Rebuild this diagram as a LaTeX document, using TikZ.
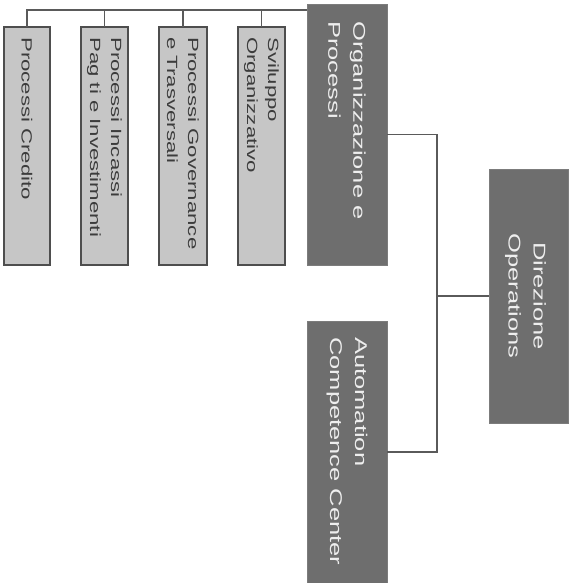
\documentclass[tikz,border=0pt]{standalone}
\usepackage{fontspec}
\newfontfamily\lightlabel[FakeStretch=1.5]{Liberation Sans}
\newfontfamily\darklabel[FakeStretch=1.5]{Liberation Sans}
\definecolor{lightfill}{HTML}{C6C6C6}
\definecolor{lightedge}{HTML}{4E4E4E}
\definecolor{darkfill}{HTML}{6E6E6E}
\definecolor{darkedge}{HTML}{7C7C7C}
\definecolor{lighttext}{HTML}{3C3C3C}
\definecolor{darktext}{HTML}{EEEEEE}
\definecolor{wire}{HTML}{5A5A5A}
\tikzset{
  unitbox/.style={rectangle, anchor=north west, inner sep=0pt, outer sep=0pt,
    fill=lightfill, draw=lightedge, line width=1.2pt},
  headbox/.style={rectangle, anchor=north west, inner sep=0pt, outer sep=0pt,
    fill=darkfill, draw=darkedge, line width=0.8pt},
  unittext/.style={rotate=-90, anchor=west, align=left, inner sep=0pt,
    text=lighttext, font=\lightlabel\fontsize{14.8}{21}\selectfont},
  headtext/.style={rotate=-90, anchor=west, align=left, inner sep=0pt,
    text=darktext, font=\darklabel\fontsize{17}{25}\selectfont},
  link/.style={draw=wire, line width=1.2pt}
}
\begin{document}
\begin{tikzpicture}[x=1pt, y=-1pt]
  \useasboundingbox (0,0) rectangle (571,583);

  % units under Organizzazione e Processi
  \node[unitbox, minimum width=46pt, minimum height=238pt] (b1) at (4,27) {};
  \node[unitbox, minimum width=47pt, minimum height=238pt] (b2) at (81,27) {};
  \node[unitbox, minimum width=48pt, minimum height=238pt] (b3) at (159,27) {};
  \node[unitbox, minimum width=47pt, minimum height=238pt] (b4) at (238,27) {};

  % head boxes
  \node[headbox, minimum width=80pt, minimum height=261pt] (org) at (307,4) {};
  \node[headbox, minimum width=79pt, minimum height=254pt] (dir) at (489,169) {};
  \node[headbox, minimum width=80pt, minimum height=262pt] (acc) at (307,321) {};

  % labels, read top to bottom
  \node[unittext] (t1) at ([yshift=-10pt]b1.north) {Processi Credito};
  \node[unittext] (t2) at ([yshift=-10pt]b2.north) {Processi Incassi\\Pag ti e Investimenti};
  \node[unittext] (t3) at ([yshift=-10pt]b3.north) {Processi Governance\\e Trasversali};
  \node[unittext] (t4) at ([yshift=-10pt]b4.north) {Sviluppo\\Organizzativo};
  \node[headtext] (t5) at ([yshift=-17pt]org.north) {Organizzazione e\\Processi};
  \node[headtext, anchor=center, align=center] (t6) at ([xshift=-3pt]dir.center) {Direzione\\Operations};
  \node[headtext] (t7) at ([yshift=-16pt]acc.north) {Automation\\Competence Center};

  % connectors
  \coordinate (bus) at (0,10);
  \draw[link] (b1.north) |- (bus -| org.west);
  \foreach \b in {b2,b3,b4} \draw[link] (\b.north) -- (\b.north |- bus);
  \coordinate (trunk) at (437,296);
  \draw[link] (org.east) -| (trunk);
  \draw[link] (acc.east) -| (trunk);
  \draw[link] (trunk) -- (trunk -| dir.west);
\end{tikzpicture}
\end{document}
